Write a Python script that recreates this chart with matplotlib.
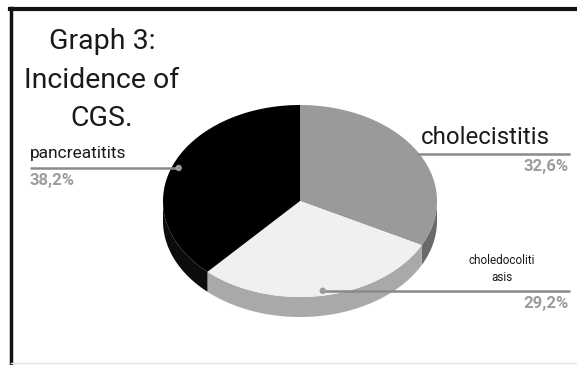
import numpy as np
import matplotlib
matplotlib.use("Agg")
import matplotlib.pyplot as plt
from matplotlib.patches import Polygon, Circle

plt.rcParams['font.family'] = ['Roboto', 'DejaVu Sans']

# Incidence data
categories = ["cholecistitis", "choledocoliti\nasis", "pancreatitits"]
shares = [32.6, 29.2, 38.2]
pct_labels = ["32,6%", "29,2%", "38,2%"]
top_colors = ["#9a9a9a", "#f0f0f0", "#000000"]
side_colors = ["#6a6a6a", "#a9a9a9", "#0c0c0c"]

W, H = 577, 365
fig = plt.figure(figsize=(W / 100, H / 100), dpi=100)
ax = fig.add_axes([0, 0, 1, 1])
ax.set_xlim(0, W)
ax.set_ylim(H, 0)
ax.axis("off")

# Pie geometry (tilted ellipse with a shallow wall)
cx, cy, rx, ry, depth = 300, 201, 137, 96, 20


def pt(theta, r=1.0, dy=0.0):
    # theta in degrees, clockwise from 12 o'clock
    t = np.radians(theta)
    return cx + rx * r * np.sin(t), cy - ry * r * np.cos(t) + dy


fracs = np.array(shares) / np.sum(shares)
bounds = np.concatenate([[0], np.cumsum(fracs) * 360])

# Side walls (front half only)
for i in range(len(shares)):
    a, b = bounds[i], bounds[i + 1]
    lo, hi = max(a, 90), min(b, 270)
    if hi <= lo:
        continue
    th = np.linspace(lo, hi, 80)
    top = [pt(t) for t in th]
    bot = [pt(t, dy=depth) for t in th[::-1]]
    ax.add_patch(Polygon(top + bot, closed=True, fc=side_colors[i], ec="none", zorder=1))

# Top wedges
for i in range(len(shares)):
    a, b = bounds[i], bounds[i + 1]
    th = np.linspace(a, b, 120)
    poly = [(cx, cy)] + [pt(t) for t in th]
    ax.add_patch(Polygon(poly, closed=True, fc=top_colors[i], ec="none", zorder=2))

# Leader lines, anchored at each wedge's mid angle
mids = (bounds[:-1] + bounds[1:]) / 2
anchors = [pt(m, r=0.95) for m in mids]

line_kw = dict(color="#8a8a8a", lw=1.8, zorder=3, solid_capstyle="butt")
pct_kw = dict(color="#9c9c9c", fontsize=12, fontweight="bold")

# cholecistitis
x0, y0 = anchors[0]
ax.plot([x0 + 6, 570], [y0, y0], **line_kw)
ax.text(550, y0 - 10, categories[0], ha="right", va="baseline", fontsize=17.3, color="#1a1a1a")
ax.text(569, y0 + 17, pct_labels[0], ha="right", va="baseline", **pct_kw)

# choledocolitiasis
x1, y1 = anchors[1]
ax.plot([x1, 570], [y1, y1], **line_kw)
ax.add_patch(Circle((x1, y1), 3.2, fc="#9a9a9a", ec="none", zorder=4))
ax.text(502, 281, categories[1], ha="center", va="baseline", fontsize=8.5,
        color="#1a1a1a", linespacing=1.45)
ax.text(569, y1 + 17, pct_labels[1], ha="right", va="baseline", **pct_kw)

# pancreatitits
x2, y2 = anchors[2]
ax.plot([30, x2], [y2, y2], **line_kw)
ax.add_patch(Circle((x2, y2), 3.2, fc="#9a9a9a", ec="none", zorder=4))
ax.text(30, y2 - 10, categories[2], ha="left", va="baseline", fontsize=12.5, color="#1a1a1a")
ax.text(30, y2 + 17, pct_labels[2], ha="left", va="baseline", **pct_kw)

# Title block
ax.text(102, 80, "Graph 3:\nIncidence of\nCGS.", ha="center", va="center",
        fontsize=20.5, color="#1a1a1a", linespacing=1.55)

# Frame lines on top and left
ax.plot([10, W], [8.5, 8.5], color="#111111", lw=3, zorder=5)
ax.plot([11, 11], [8, H], color="#111111", lw=2.5, zorder=5)
ax.plot([11, W], [363, 363], color="#e4e4e4", lw=1, zorder=5)

fig.savefig("out.png", dpi=100, facecolor="white")
